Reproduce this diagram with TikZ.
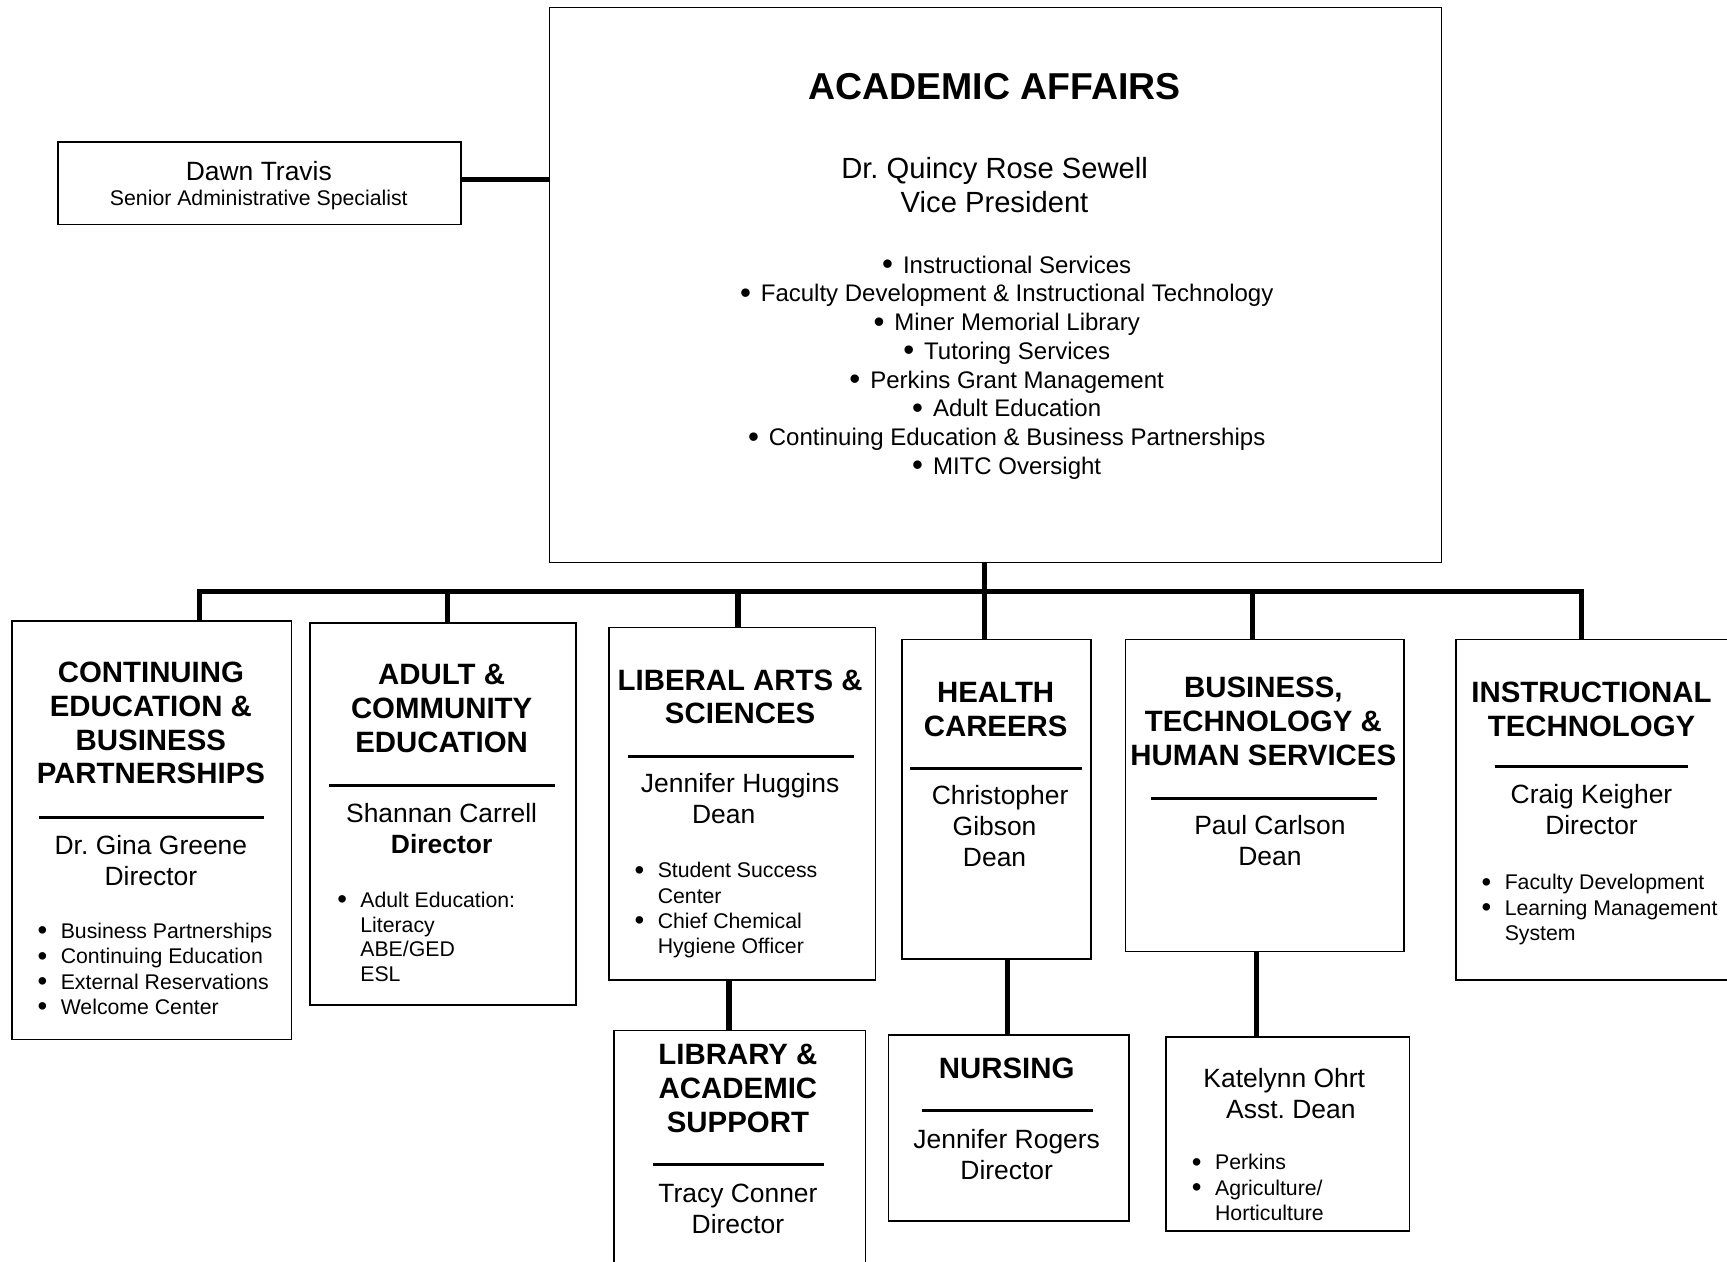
\documentclass[tikz,border=0pt]{standalone}
\usepackage{fontspec}
\setmainfont{Liberation Sans}
\frenchspacing
\newcommand\hfnt{\fontsize{26.7}{30.7}\selectfont\bfseries}
\newcommand\nfnt{\fontsize{24}{28}\selectfont}
\newcommand\lfnt{\fontsize{19.3}{23}\selectfont}
\newcommand\blt{\raisebox{-0.12ex}{\scalebox{1.3}{\textbullet}}}
\newcommand\itm{\makebox[21pt][l]{\blt}}
\newcommand\cnt{\hspace*{21pt}}
\newcommand\vpi{\blt\hspace{9pt}}

\begin{document}
\begin{tikzpicture}[x=1pt,y=-1pt,
    box/.style={draw,line width=1.5pt,anchor=north west,inner sep=0pt},
    head/.style={font=\hfnt,align=center,anchor=base,inner sep=0pt},
    who/.style={font=\nfnt,align=center,anchor=base,inner sep=0pt},
    duty/.style={font=\lfnt,align=left,anchor=base west,inner sep=0pt},
    tie/.style={line width=4.8pt},
    hrule/.style={line width=2.6pt}]

    \useasboundingbox (0,0) rectangle (1568,1145);
    \clip (0,0) rectangle (1568,1145);

    \node[box,minimum width=810pt,minimum height=504pt] (aa) at (498,6) {};
    \node[box,minimum width=366pt,minimum height=75pt] (dawn) at (52,128) {};
    \node[box,minimum width=254pt,minimum height=380pt] (ce) at (10,563) {};
    \node[box,minimum width=241pt,minimum height=347pt] (ac) at (281,565) {};
    \node[box,minimum width=242pt,minimum height=320pt] (las) at (552,569) {};
    \node[box,minimum width=172pt,minimum height=290pt] (hc) at (818,580) {};
    \node[box,minimum width=253pt,minimum height=283pt] (bth) at (1021,580) {};
    \node[box,minimum width=300pt,minimum height=309pt] (it) at (1321,580) {};
    \node[box,minimum width=228pt,minimum height=240pt] (lib) at (557,935) {};
    \node[box,minimum width=218pt,minimum height=169pt] (nur) at (806,939) {};
    \node[box,minimum width=221pt,minimum height=176pt] (ko) at (1058,941) {};

    % multi-line texts sit on the baseline of their last line
    \node[head,font=\fontsize{34}{40}\selectfont\bfseries] (aat) at (903,90) {ACADEMIC AFFAIRS};
    \node[who,font=\fontsize{26.5}{30}\selectfont] (aan) at (903,192.5) {Dr. Quincy Rose Sewell\\Vice President};
    \node[who,font=\fontsize{21.8}{26.1}\selectfont] (aab) at (914,430.7) {\vpi Instructional Services\\
        \vpi Faculty Development \& Instructional Technology\\\vpi Miner Memorial Library\\
        \vpi Tutoring Services\\\vpi Perkins Grant Management\\\vpi Adult Education\\
        \vpi Continuing Education \& Business Partnerships\\\vpi MITC Oversight};

    \node[who] (dawnn) at (235,163.6) {Dawn Travis};
    \node[who,font=\lfnt] (dawnt) at (235,187) {Senior Administrative Specialist};

    \node[head] (ceh) at (137,711.7) {CONTINUING\\EDUCATION \&\\BUSINESS\\PARTNERSHIPS};
    \draw[hrule] (35,742) -- (240,742);
    \node[who] (cen) at (137,803.6) {Dr. Gina Greene\\Director};
    \node[duty] (ceb) at (34,921) {\itm Business Partnerships\\\itm Continuing Education\\
        \itm External Reservations\\\itm Welcome Center};

    \node[head] (ach) at (401,683) {ADULT \&\\COMMUNITY\\EDUCATION};
    \draw[hrule] (299,713) -- (504,713);
    \node[who] (acn) at (401,774.6) {Shannan Carrell\\\textbf{Director}};
    \node[duty,font=\fontsize{19.3}{22.4}\selectfont] (acb) at (306,891.2) {\itm Adult Education:\\\cnt Literacy\\
        \cnt ABE/GED\\\cnt ESL};

    \node[head] (lash) at (672,657.3) {LIBERAL ARTS \&\\SCIENCES};
    \draw[hrule] (570,687) -- (775,687);
    \node[who] (lasn) at (672,747.6) {Jennifer Huggins\\Dean\hspace*{30pt}};
    \node[duty] (lasb) at (576,866) {\itm Student Success\\\cnt Center\\
        \itm Chief Chemical\\\cnt Hygiene Officer};

    \node[head] (hch) at (904,668.3) {HEALTH\\CAREERS};
    \draw[hrule] (826,698) -- (982,698);
    \node[who] (hcn) at (903,786.6) {\hspace*{10pt}Christopher\\Gibson\\Dean};

    \node[head] (bthh) at (1147,695) {BUSINESS,\\TECHNOLOGY \&\\HUMAN SERVICES};
    \draw[hrule] (1045,725) -- (1250,725);
    \node[who] (bthn) at (1153,785.6) {Paul Carlson\\Dean};

    \node[head] (ith) at (1445,668.3) {INSTRUCTIONAL\\TECHNOLOGY};
    \draw[hrule] (1357,696) -- (1533,696);
    \node[who] (itn) at (1445,757.6) {Craig Keigher\\Director};
    \node[duty] (itb) at (1345,854) {\itm Faculty Development\\\itm Learning Management\\\cnt System};

    \node[head] (libh) at (670,1028) {LIBRARY \&\\ACADEMIC\\SUPPORT};
    \draw[hrule] (593,1057) -- (748,1057);
    \node[who] (libn) at (670,1119.6) {Tracy Conner\\Director};

    \node[head] (nurh) at (914,979.6) {NURSING};
    \draw[hrule] (837,1008) -- (992,1008);
    \node[who] (nurn) at (914,1070.6) {Jennifer Rogers\\Director};

    \node[who] (kon) at (1166,1015.6) {Katelynn Ohrt\\\hspace*{12pt}Asst. Dean};
    \node[duty] (kob) at (1082,1108) {\itm Perkins\\\itm Agriculture/\\\cnt Horticulture};

    \foreach \x/\n in {181/d1,406/d2,670/d3,894/d4,1137/d5,1436/d6}
        \coordinate (\n) at (\x,537);
    \foreach \x/\n in {662/k1,915/k2,1141/k3}
        \coordinate (\n) at (\x,0);
    \coordinate (dt) at ([yshift=3.5pt]dawn.east);

    \draw[tie] (dt) -- (dt -| aa.west);
    \draw[tie,line join=miter] (d1 |- ce.north) -- (d1) -- (d6) -- (d6 |- it.north);
    \foreach \d/\b in {d2/ac,d3/las,d5/bth}
        \draw[tie] (\d) -- (\d |- \b.north);
    \draw[tie] (d4 |- aa.south) -- (d4 |- hc.north);
    \draw[tie] (k1 |- las.south) -- (k1 |- lib.north);
    \draw[tie] (k2 |- hc.south) -- (k2 |- nur.north);
    \draw[tie] (k3 |- bth.south) -- (k3 |- ko.north);
\end{tikzpicture}
\end{document}
